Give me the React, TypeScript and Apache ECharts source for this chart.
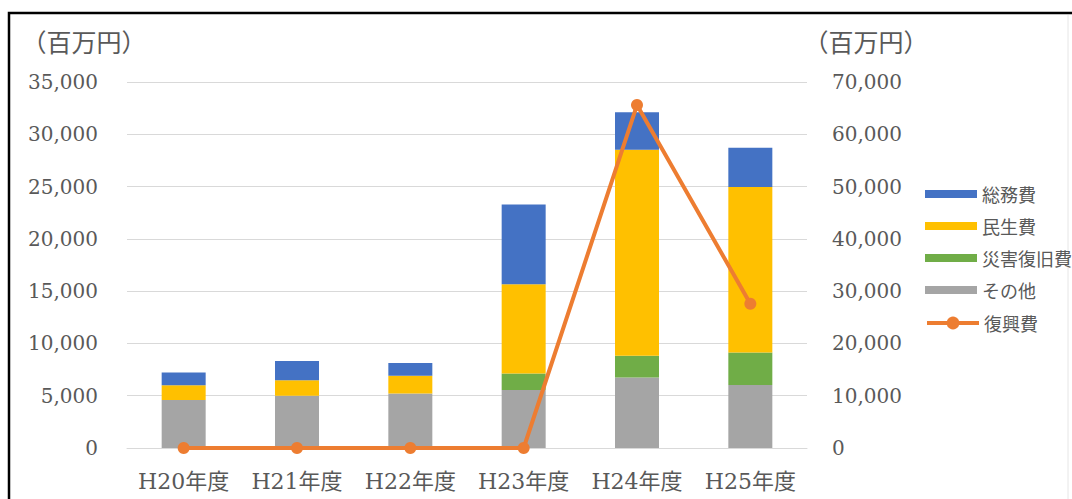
import React, { useEffect, useRef } from "react";
import * as echarts from "echarts";

const categories = ["H20年度", "H21年度", "H22年度", "H23年度", "H24年度", "H25年度"];
const otherValues = [4580, 4990, 5220, 5540, 6750, 6020];
const disasterValues = [0, 0, 0, 1590, 2060, 3120];
const welfareValues = [1430, 1500, 1680, 8520, 19700, 15810];
const generalValues = [1210, 1840, 1240, 7640, 3590, 3760];
const reconstructionValues = [0, 0, 0, 0, 65600, 27600];
const leftTicks = { min: 0, max: 35000, interval: 5000 };
const rightTicks = { min: 0, max: 70000, interval: 10000 };

const TEXT = "#595959";
const GRID = "#D9D9D9";
const NUM_FONT = "'DejaVu Serif', 'Noto Sans CJK JP', serif";
const JP_FONT = "'Noto Sans CJK JP', sans-serif";

const fmt = (v: number) => v.toLocaleString("en-US");

export default function App() {
  const ref = useRef<HTMLDivElement>(null);
  useEffect(() => {
    if (!ref.current) return;
    const chart = echarts.init(ref.current, undefined, { renderer: "svg" });
    const barBase = { type: "bar" as const, stack: "total", barWidth: 44 };
    chart.setOption({
      animation: false,
      backgroundColor: "#ffffff",
      grid: { left: 127, right: 265, top: 82, bottom: 51 },
      graphic: [
        {
          type: "rect",
          shape: { x: 9, y: 13, width: 1200, height: 700 },
          style: { fill: "none", stroke: "#000000", lineWidth: 2.5 },
          silent: true,
        },
        {
          type: "line",
          shape: { x1: 1068, y1: 15, x2: 1068, y2: 499 },
          style: { stroke: "#E6E6E6", lineWidth: 1 },
          silent: true,
        },
        {
          type: "text",
          x: 84,
          y: 41,
          style: {
            text: "（百万円）",
            font: `25px ${JP_FONT}`,
            fill: TEXT,
            textAlign: "center",
            textVerticalAlign: "middle",
          },
        },
        {
          type: "text",
          x: 866,
          y: 41,
          style: {
            text: "（百万円）",
            font: `25px ${JP_FONT}`,
            fill: TEXT,
            textAlign: "center",
            textVerticalAlign: "middle",
          },
        },
      ],
      legend: [
        {
          orient: "vertical",
          left: 920,
          top: 180,
          itemWidth: 52,
          itemHeight: 8,
          itemGap: 14,
          icon: "rect",
          textStyle: { fontSize: 18, color: TEXT, fontFamily: JP_FONT },
          data: ["総務費", "民生費", "災害復旧費", "その他"],
        },
        {
          orient: "vertical",
          left: 920,
          top: 309,
          itemWidth: 52,
          itemHeight: 16,
          lineStyle: { width: 4 },
          textStyle: { fontSize: 18, color: TEXT, fontFamily: JP_FONT },
          data: ["復興費"],
        },
      ],
      xAxis: {
        type: "category",
        data: categories,
        axisTick: { show: false },
        axisLine: { lineStyle: { color: GRID, width: 1 } },
        axisLabel: {
          color: TEXT,
          fontSize: 22,
          fontFamily: NUM_FONT,
          margin: 22,
          interval: 0,
          hideOverlap: false,
        },
      },
      yAxis: [
        {
          type: "value",
          ...leftTicks,
          axisLine: { show: false },
          axisTick: { show: false },
          splitLine: { lineStyle: { color: GRID, width: 1 } },
          axisLabel: { color: TEXT, fontSize: 20, fontFamily: NUM_FONT, margin: 29, formatter: fmt },
        },
        {
          type: "value",
          ...rightTicks,
          axisLine: { show: false },
          axisTick: { show: false },
          splitLine: { show: false },
          axisLabel: { color: TEXT, fontSize: 20, fontFamily: NUM_FONT, margin: 25, formatter: fmt },
        },
      ],
      series: [
        { ...barBase, name: "その他", data: otherValues, itemStyle: { color: "#A5A5A5" } },
        { ...barBase, name: "災害復旧費", data: disasterValues, itemStyle: { color: "#70AD47" } },
        { ...barBase, name: "民生費", data: welfareValues, itemStyle: { color: "#FFC000" } },
        { ...barBase, name: "総務費", data: generalValues, itemStyle: { color: "#4472C4" } },
        {
          type: "line",
          name: "復興費",
          yAxisIndex: 1,
          data: reconstructionValues,
          symbol: "circle",
          symbolSize: 12,
          lineStyle: { color: "#ED7D31", width: 4 },
          itemStyle: { color: "#ED7D31" },
          z: 5,
        },
      ],
    });
    return () => chart.dispose();
  }, []);
  return (
    <div
      ref={ref}
      style={{ position: "absolute", left: 0, top: 0, width: 1072, height: 499, background: "#fff" }}
    />
  );
}
